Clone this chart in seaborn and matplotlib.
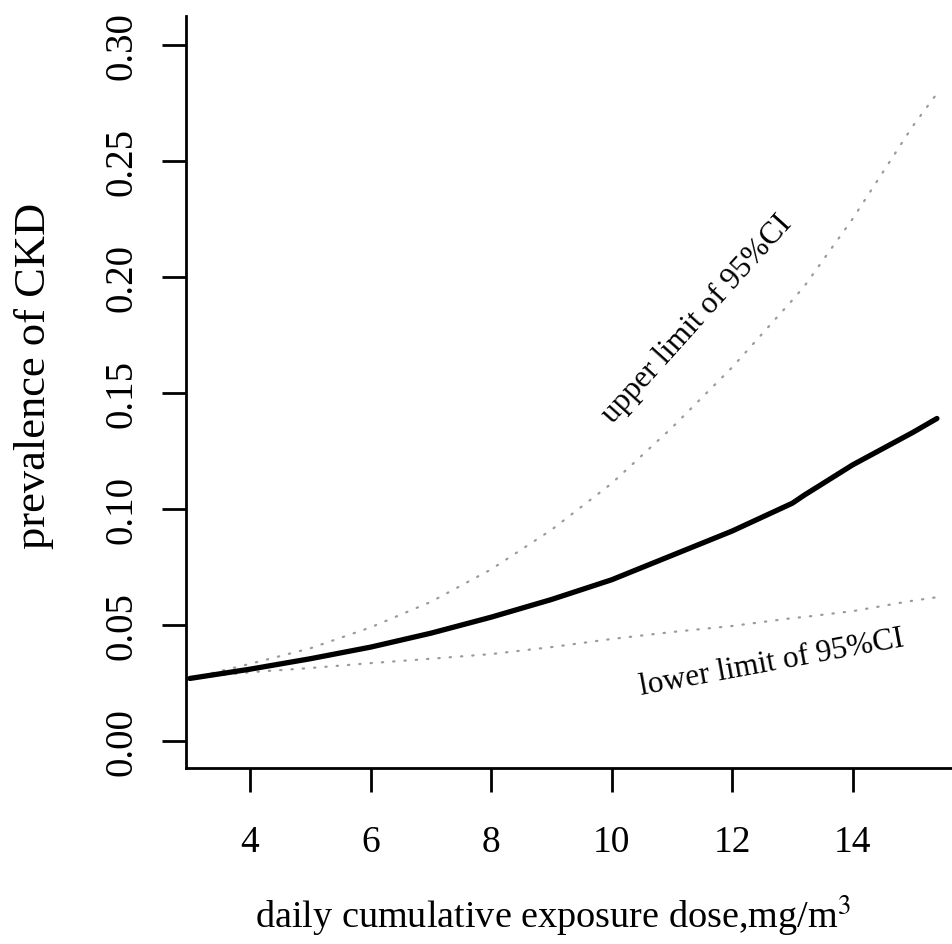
import matplotlib
matplotlib.use("Agg")
import matplotlib.pyplot as plt
import seaborn as sns
import pandas as pd

# values
dose = [3.0, 4.0, 5.0, 6.0, 7.0, 8.0, 9.0, 10.0, 11.0, 12.0, 13.0, 13.2, 14.0, 15.0, 15.4]
prevalence = [0.027, 0.031, 0.0355, 0.0405, 0.0465, 0.0534, 0.061, 0.0695, 0.080,
              0.0905, 0.1025, 0.106, 0.119, 0.133, 0.139]
upper_ci = [0.027, 0.0333, 0.040, 0.049, 0.060, 0.074, 0.091, 0.111, 0.135,
            0.161, 0.190, 0.196, 0.225, 0.265, 0.279]
lower_ci = [0.027, 0.0297, 0.0315, 0.0336, 0.0355, 0.0375, 0.0405, 0.044, 0.047,
            0.0496, 0.053, 0.0535, 0.056, 0.0605, 0.062]
x_ticks = [4, 6, 8, 10, 12, 14]
y_ticks = [0.00, 0.05, 0.10, 0.15, 0.20, 0.25, 0.30]

df = pd.DataFrame({"dose": dose, "fit": prevalence, "upper": upper_ci, "lower": lower_ci})

sns.set_style("ticks")
plt.rcParams["font.family"] = ["Liberation Serif", "DejaVu Serif"]
plt.rcParams["mathtext.fontset"] = "stix"
plt.rcParams["text.color"] = "black"

fig = plt.figure(figsize=(9.53, 9.45), dpi=100)
ax = fig.add_axes([0.195, 0.1862, 0.805, 0.796])

sns.lineplot(data=df, x="dose", y="upper", ax=ax, color="#9a9a9a",
             linestyle=(0, (0.6, 4.5)), linewidth=1.6, dash_capstyle="round")
sns.lineplot(data=df, x="dose", y="lower", ax=ax, color="#9a9a9a",
             linestyle=(0, (0.6, 4.5)), linewidth=1.6, dash_capstyle="round")
sns.lineplot(data=df, x="dose", y="fit", ax=ax, color="black", linewidth=3.8)

ax.set_xlim(2.933, 15.667)
ax.set_ylim(-0.0116, 0.3125)
ax.set_xticks(x_ticks)
ax.set_xticklabels([str(t) for t in x_ticks])
ax.set_yticks(y_ticks)
ax.set_yticklabels([f"{t:.2f}" for t in y_ticks], rotation=90, va="center")

for side in ["top", "right"]:
    ax.spines[side].set_visible(False)
for side in ["left", "bottom"]:
    ax.spines[side].set_linewidth(2.0)
    ax.spines[side].set_color("black")
ax.tick_params(axis="both", length=17, width=2.0, color="black", labelcolor="black")
ax.tick_params(axis="x", pad=24, labelsize=27)
ax.tick_params(axis="y", pad=16, labelsize=28)

ax.set_xlabel("")
ax.set_ylabel("")
fig.text(0.58, 0.018, "daily cumulative exposure dose,mg/m$^3$", ha="center",
         va="baseline", fontsize=27.5)
fig.text(0.036, 0.602, "prevalence of CKD", ha="center", va="center",
         rotation=90, fontsize=32)

ax.text(11.42, 0.182, "upper limit of 95%CI", rotation=48, ha="center",
        va="center", fontsize=22.5, rotation_mode="anchor")
ax.text(12.65, 0.034, "lower limit of 95%CI", rotation=10.5, ha="center",
        va="center", fontsize=22.5, rotation_mode="anchor")

fig.savefig("out.png", dpi=100, facecolor="white")
